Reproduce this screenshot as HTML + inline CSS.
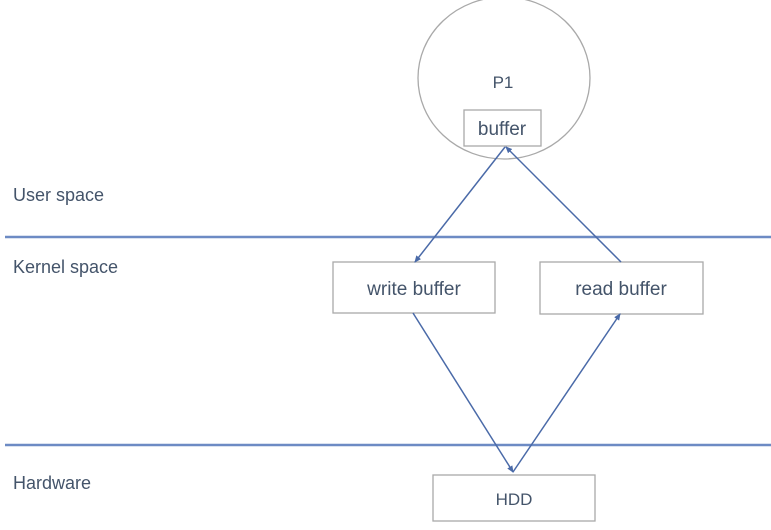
<!DOCTYPE html>
<html><head><meta charset="utf-8"><style>
html,body{margin:0;padding:0;background:#fff;}
svg{display:block;}
text{font-family:"Liberation Sans",sans-serif;fill:#44546a;font-size:18px;}
</style></head><body>
<svg width="771" height="530" viewBox="0 0 771 530">
<defs>
<marker id="a" markerWidth="8" markerHeight="8" refX="6" refY="3" orient="auto" markerUnits="userSpaceOnUse">
<path d="M0,0 L7,3 L0,6 z" fill="#4a6aa8"/></marker>
</defs>
<ellipse cx="504" cy="78" rx="86" ry="81" fill="none" stroke="#a9a9a9" stroke-width="1.3"/>
<text x="503" y="88" text-anchor="middle" style="font-size:17px">P1</text>
<rect x="464" y="110" width="77" height="36" fill="#fff" stroke="#a9a9a9" stroke-width="1.3"/>
<text x="502" y="135" text-anchor="middle" style="font-size:19px">buffer</text>
<line x1="5" y1="237" x2="771" y2="237" stroke="#6d8bc4" stroke-width="2.5"/>
<line x1="5" y1="445" x2="771" y2="445" stroke="#6d8bc4" stroke-width="2.5"/>
<text x="13" y="201">User space</text>
<text x="13" y="273">Kernel space</text>
<text x="13" y="489">Hardware</text>
<rect x="333" y="262" width="162" height="51" fill="#fff" stroke="#a9a9a9" stroke-width="1.3"/>
<text x="414" y="295" text-anchor="middle" style="font-size:19px">write buffer</text>
<rect x="540" y="262" width="163" height="52" fill="#fff" stroke="#a9a9a9" stroke-width="1.3"/>
<text x="621" y="295" text-anchor="middle" style="font-size:19px">read buffer</text>
<rect x="433" y="475" width="162" height="46" fill="#fff" stroke="#a9a9a9" stroke-width="1.3"/>
<text x="514" y="505" text-anchor="middle" style="font-size:17px">HDD</text>
<g stroke="#4a6aa8" stroke-width="1.5" fill="none">
<line x1="505" y1="147" x2="415" y2="262" marker-end="url(#a)"/>
<line x1="621" y1="262" x2="506" y2="147" marker-end="url(#a)"/>
<line x1="413" y1="313" x2="513" y2="472" marker-end="url(#a)"/>
<line x1="513" y1="472" x2="620" y2="314" marker-end="url(#a)"/>
</g>
</svg>
</body></html>
